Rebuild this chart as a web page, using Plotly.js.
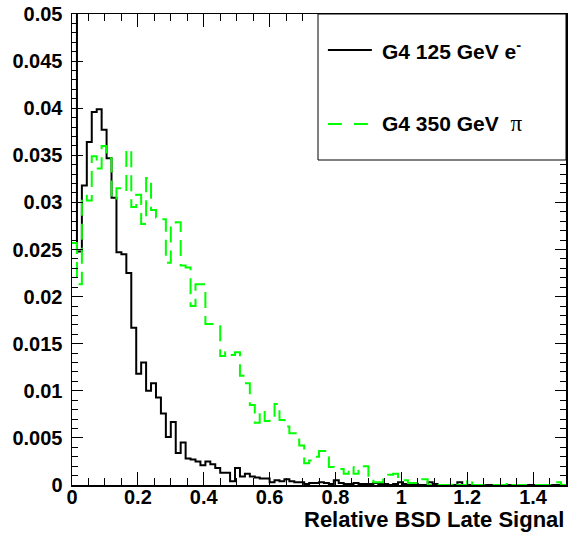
<!DOCTYPE html>
<html>
<head>
<meta charset="utf-8">
<script src="https://cdn.plot.ly/plotly-3.0.1.min.js"></script>
<style>html,body{margin:0;padding:0;background:#fff;}#chart{width:568px;height:535px;}</style>
</head>
<body>
<div id="chart"></div>
<script>
// Histogram binning (100 bins from 0 to 1.5)
const binLow = 0;
const binWidth = 0.015;

// G4 125 GeV e- (black, solid)  -- first bin is off-scale (clipped at the top)
const electronValues = [
  0.06, 0.0248, 0.0318, 0.0364, 0.0396, 0.0399, 0.0377, 0.0347, 0.0305, 0.0247,
  0.0245, 0.0225, 0.0167, 0.0118, 0.0130, 0.0100, 0.0108, 0.0093, 0.0076, 0.0051,
  0.0067, 0.0034, 0.0045, 0.0028, 0.0027, 0.0025, 0.0021, 0.0025, 0.0022, 0.0018,
  0.0013, 0.0013, 0.0004, 0.0018, 0.0009, 0.0012, 0.0009, 0.0008, 0.0007, 0.0007,
  0.0003, 0.0005, 0.0004, 0.0006, 0.0004, 0.0003, 0.0003, 0.0001, 0.0002, 0.0002,
  0.0003, 0.0002, 0.0001, 0.0005, 0.0002, 0.0001, 0.0001, 0.0002, 0.0001, 0.0001,
  0.0001, 0.0002, 0.0001, 0.0001, 0, 0.0001, 0.0003, 0.0001, 0.0001, 0.0001,
  0, 0, 0.0003, 0.0001, 0, 0, 0, 0, 0.0003, 0,
  0, 0, 0, 0, 0, 0, 0, 0, 0, 0,
  0, 0, 0, 0, 0, 0, 0, 0, 0, 0
];

// G4 350 GeV pi (green, dashed)
const pionValues = [
  0.0257, 0.0213, 0.0307, 0.0302, 0.0349, 0.0336, 0.0360, 0.0347, 0.0303, 0.0315,
  0.0312, 0.0356, 0.0295, 0.0308, 0.0277, 0.0326, 0.0292, 0.0284, 0.0282, 0.0236,
  0.0275, 0.0279, 0.0233, 0.0231, 0.0190, 0.0213, 0.0213, 0.0171, 0.0171, 0.0171,
  0.0137, 0.0141, 0.0138, 0.0141, 0.0116, 0.0108, 0.0085, 0.0066, 0.0079, 0.0068,
  0.0072, 0.0086, 0.0069, 0.0062, 0.0055, 0.0055, 0.0042, 0.0023, 0.0026, 0.0030,
  0.0036, 0.0036, 0.0019, 0.0018, 0.0017, 0.0012, 0.0019, 0.0012, 0.0020, 0.0020,
  0.0007, 0.0003, 0.0003, 0.0007, 0.0011, 0.0012, 0.0006, 0.0005, 0.0002, 0.0002,
  0.0006, 0.0006, 0, 0.0001, 0, 0, 0, 0.0003, 0, 0,
  0.0006, 0, 0, 0, 0, 0, 0, 0, 0.0003, 0,
  0, 0, 0, 0, 0, 0, 0, 0, 0.0003, 0
];

const seriesNames = ['G4 125 GeV e<sup>-</sup>', 'G4 350 GeV  <span style="font-family:Liberation Serif;font-weight:normal;font-size:23px">π</span>'];
const xTitle = 'Relative BSD Late Signal';

function stepXY(values) {
  const x = [], y = [];
  for (let i = 0; i < values.length; i++) {
    x.push(binLow + i * binWidth);
    y.push(values[i]);
  }
  x.push(binLow + values.length * binWidth);
  y.push(values[values.length - 1]);
  return {x, y};
}

const e = stepXY(electronValues);
const p = stepXY(pionValues);

const traces = [
  {x: e.x, y: e.y, type: 'scatter', mode: 'lines', line: {shape: 'hv', color: '#000000', width: 2}, name: 'G4 125 GeV e-', showlegend: false},
  {x: p.x, y: p.y, type: 'scatter', mode: 'lines', line: {shape: 'hv', color: '#00ff00', width: 2, dash: '16px,8px'}, name: 'G4 350 GeV pi', showlegend: false}
];

const font = {family: 'Liberation Sans, Arial, sans-serif', color: '#000', weight: 'bold'};

const legX0 = 0.498, legY0 = 0.69;
const row1 = 0.9236, row2 = 0.7665;
const sampleX0 = 0.518, sampleX1 = 0.607, textX = 0.6235;

const layout = {
  width: 568, height: 535,
  margin: {l: 72, r: 2, t: 14, b: 50},
  paper_bgcolor: '#fff', plot_bgcolor: '#fff',
  showlegend: false,
  xaxis: {
    range: [0, 1.5], dtick: 0.2, tick0: 0,
    ticks: 'inside', ticklen: 13, tickwidth: 1, tickcolor: '#000',
    minor: {dtick: 0.05, ticks: 'inside', ticklen: 7, tickcolor: '#000', tickwidth: 1},
    showline: true, linecolor: '#000', linewidth: 1.5, mirror: 'ticks',
    showgrid: false, zeroline: false,
    tickfont: Object.assign({size: 20}, font),
    ticklabelstandoff: -7
  },
  yaxis: {
    range: [0, 0.05], dtick: 0.005, tick0: 0,
    ticks: 'inside', ticklen: 11, tickwidth: 1, tickcolor: '#000',
    minor: {dtick: 0.001, ticks: 'inside', ticklen: 6, tickcolor: '#000', tickwidth: 1},
    showline: true, linecolor: '#000', linewidth: 1.5, mirror: 'ticks',
    showgrid: false, zeroline: false,
    tickfont: Object.assign({size: 20}, font),
    ticklabelstandoff: 4
  },
  shapes: [
    {type: 'rect', xref: 'paper', yref: 'paper', x0: legX0, x1: 1, y0: legY0, y1: 1, line: {color: '#000', width: 1}, fillcolor: 'rgba(255,255,255,1)', layer: 'above'},
    {type: 'line', xref: 'paper', yref: 'paper', x0: sampleX0, x1: sampleX1, y0: row1, y1: row1, line: {color: '#000', width: 2}},
    {type: 'line', xref: 'paper', yref: 'paper', x0: sampleX0, x1: sampleX1, y0: row2, y1: row2, line: {color: '#00ff00', width: 2, dash: '14px,12px'}}
  ],
  annotations: [
    {xref: 'paper', yref: 'paper', x: textX, y: row1, xanchor: 'left', yanchor: 'middle', text: seriesNames[0], showarrow: false, font: Object.assign({size: 21}, font)},
    {xref: 'paper', yref: 'paper', x: textX, y: row2, xanchor: 'left', yanchor: 'middle', text: seriesNames[1], showarrow: false, font: Object.assign({size: 21}, font)},
    {xref: 'paper', yref: 'paper', x: 1.0, y: -0.074, xanchor: 'right', yanchor: 'middle', text: xTitle, showarrow: false, font: Object.assign({size: 22}, font)}
  ]
};

Plotly.newPlot('chart', traces, layout, {displayModeBar: false, staticPlot: true});
</script>
</body>
</html>
